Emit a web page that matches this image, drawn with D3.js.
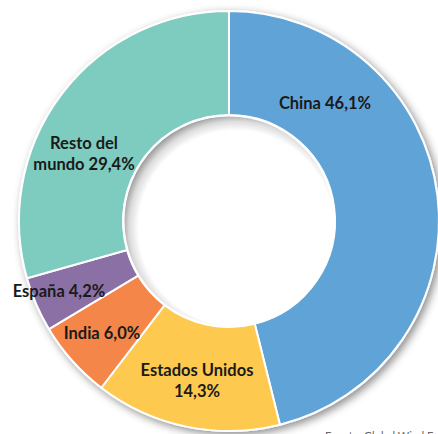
<!DOCTYPE html>
<html><head><meta charset="utf-8">
<script src="https://cdn.jsdelivr.net/npm/d3@7"></script>
<style>html,body{margin:0;padding:0;background:#fff;overflow:hidden}</style>
</head><body>
<svg id="c" width="438" height="434"></svg>
<script>
const categories = ["China", "Estados Unidos", "India", "España", "Resto del mundo"];
const values = [46.1, 14.3, 6.0, 4.2, 29.4];
const labelLines = [["China 46,1%"], ["Estados Unidos", "14,3%"], ["India 6,0%"], ["España 4,2%"], ["Resto del", "mundo 29,4%"]];
const colors = ["#60a3d7", "#fec94f", "#f58649", "#8a6fa5", "#7ecbbf"];

const W = 438, H = 434, cx = 229, cy = 221, R = 210, r = 106;
// label anchors relative to centre (layout only)
const labelAnchor = [[96, -118], [-32, 159], [-127, 112], [-170, 70], [-145, -68]];

const svg = d3.select("#c");
const defs = svg.append("defs");
const f = defs.append("filter").attr("id", "ds").attr("x", "-20%").attr("y", "-20%").attr("width", "140%").attr("height", "140%");
f.append("feDropShadow").attr("dx", 3).attr("dy", 3).attr("stdDeviation", 4).attr("flood-color", "#000").attr("flood-opacity", 0.45);
const g0 = defs.append("radialGradient").attr("id", "hole").attr("gradientUnits", "userSpaceOnUse")
  .attr("cx", 7).attr("cy", 7).attr("r", 116);
g0.append("stop").attr("offset", 0).attr("stop-color", "#fff");
g0.append("stop").attr("offset", 0.84).attr("stop-color", "#fff");
g0.append("stop").attr("offset", 0.92).attr("stop-color", "#dcdcdc");
g0.append("stop").attr("offset", 1).attr("stop-color", "#8c8c8c");

const pie = d3.pie().sort(null).value(d => d)(values);
const arc = d3.arc().innerRadius(r).outerRadius(R);
const g = svg.append("g").attr("transform", `translate(${cx},${cy})`);
const ring = g.append("g").attr("filter", "url(#ds)");
ring.selectAll("path").data(pie).join("path")
  .attr("d", arc).attr("fill", (d, i) => colors[i])
  .attr("stroke", "#fff").attr("stroke-width", 2).attr("stroke-linejoin", "round");

g.append("circle").attr("r", r - 1).attr("fill", "url(#hole)");
g.append("circle").attr("r", r - 0.5).attr("fill", "none").attr("stroke", "#fff").attr("stroke-width", 2);

const lbl = g.append("g").attr("font-family", "Lato, 'Open Sans', sans-serif").attr("font-weight", 700)
  .attr("font-size", 16.5).attr("fill", "#1a1a1a").attr("text-anchor", "middle");
labelLines.forEach((lines, i) => {
  const [ax, ay] = labelAnchor[i];
  const t = lbl.append("text").attr("x", ax).attr("y", ay - (lines.length - 1) * 10.5 + 6);
  lines.forEach((l, j) => t.append("tspan").attr("x", ax).attr("dy", j ? 21 : 0).text(l));
});

svg.append("text").attr("x", 325).attr("y", 440).attr("font-family", "Lato, sans-serif")
  .attr("font-size", 11).attr("fill", "#666").text("Fuente: Global Wind Energy Council");
</script>
</body></html>
